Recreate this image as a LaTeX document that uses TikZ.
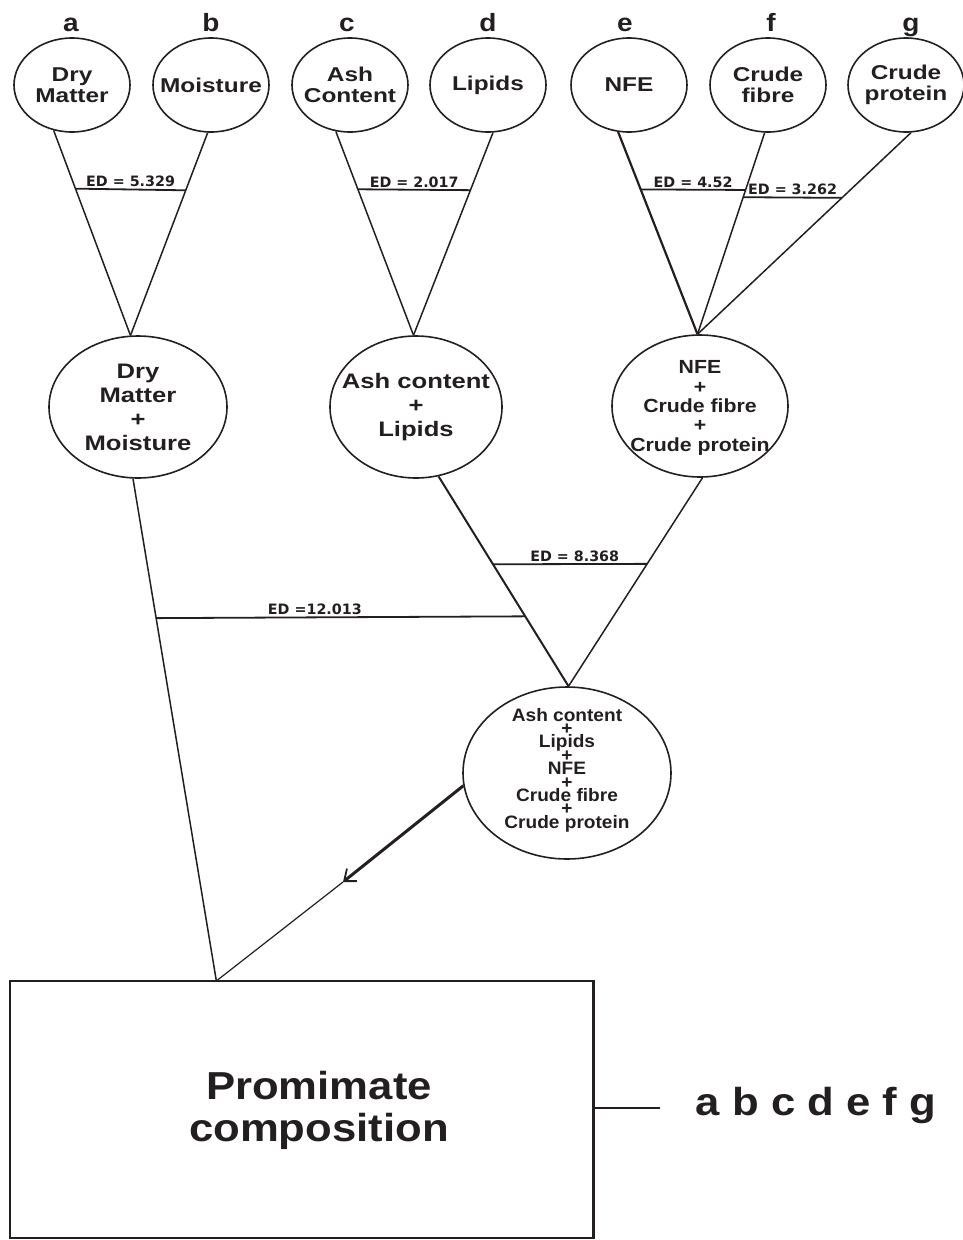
\documentclass[tikz,border=0pt]{standalone}
\usepackage{fontspec}
\setmainfont{Liberation Sans}
\newfontfamily\wideF[FakeStretch=1.22]{Liberation Sans}
\newfontfamily\wideG[FakeStretch=1.12]{Liberation Sans}
\newfontfamily\wideH[FakeStretch=1.06]{Liberation Sans}
\newfontfamily\edF{DejaVu Sans}
\usetikzlibrary{shapes.geometric,arrows.meta,calc}
\definecolor{ink}{RGB}{35,31,32}
\newcommand\tightlines{\lineskiplimit=-100pt\relax\lineskip=0pt\relax}
\begin{document}
\begin{tikzpicture}[x=1pt, y=-1pt, ink,
  ell/.style={draw, ellipse, inner sep=0pt, line width=1.6pt},
  topell/.style={ell, minimum width=116pt, minimum height=94pt},
  toptxt/.style={align=center, inner sep=0pt, font=\wideF\bfseries\fontsize{20}{21}\selectfont},
  midtxt/.style={align=center, inner sep=0pt, font=\wideF\bfseries\fontsize{21}{24}\selectfont},
  nfetxt/.style={align=center, inner sep=0pt, font=\wideG\bfseries\fontsize{19}{19.3}\selectfont},
  bottxt/.style={align=center, inner sep=0pt, font={\wideH\bfseries\fontsize{18}{13.4}\selectfont\tightlines}},
  boxtxt/.style={align=center, inner sep=0pt, font=\wideG\bfseries\fontsize{39}{42}\selectfont},
  letter/.style={anchor=base, inner sep=0pt, font=\wideG\bfseries\fontsize{25}{25}\selectfont},
  link/.style={line width=1.5pt},
  edline/.style={line width=1.8pt},
  edlab/.style={above, inner sep=1.5pt, font=\edF\bfseries\fontsize{14.3}{15}\selectfont}
]
\useasboundingbox (0,0) rectangle (962,1240);

% top ellipses
\node[topell] (a) at (72,85) {};
\node[toptxt] (ta) at (a) {Dry\\Matter};
\node[topell] (b) at (211,85) {};
\node[toptxt] (tb) at (b) {Moisture};
\node[topell] (c) at (350,85) {};
\node[toptxt] (tc) at (c) {Ash\\Content};
\node[topell] (d) at (488,85) {};
\node[toptxt] (td) at (d) {Lipids};
\node[topell] (e) at (629,85) {};
\node[toptxt] (te) at (e) {NFE};
\node[topell] (f) at (768,85) {};
\node[toptxt] (tf) at (f) {Crude\\fibre};
\node[topell] (g) at (906,85) {};
\node[toptxt] (tg) at (g) {Crude\\protein};

% letters
\node[letter] (la) at (71,31) {a};
\node[letter] (lb) at (211,31) {b};
\node[letter] (lc) at (347,31) {c};
\node[letter] (ld) at (488,31) {d};
\node[letter] (le) at (625,31) {e};
\node[letter] (lf) at (771,31) {f};
\node[letter] (lg) at (911,31) {g};

% middle ellipses
\node[ell, minimum width=178pt, minimum height=142pt] (dm) at (138,407) {};
\node[midtxt] (tdm) at (dm) {Dry\\Matter\\+\\Moisture};
\node[ell, minimum width=172pt, minimum height=142pt] (al) at (416,407) {};
\node[midtxt] (tal) at (al) {Ash content\\+\\Lipids};
\node[ell, minimum width=176pt, minimum height=142pt] (nf) at (700,406) {};
\node[nfetxt] (tnf) at (700,408) {NFE\\+\\Crude fibre\\+\\Crude protein};

% bottom ellipse
\node[ell, minimum width=208pt, minimum height=172pt] (bt) at (567,773) {};
\node[bottxt] (tbt) at (567,770) {Ash content\\+\\Lipids\\+\\NFE\\+\\Crude fibre\\+\\Crude protein};

% box
\node[draw, line width=1.5pt, minimum width=583pt, minimum height=257pt, inner sep=0pt] (box) at (301.5,1109.5) {};
\node[boxtxt] (tbox) at (319,1110) {Promimate\\composition};
\draw[line width=3pt] (box.north east) -- (box.south east);
\node[anchor=base, inner sep=0pt, font=\wideG\bfseries\fontsize{39}{39}\selectfont] (abc) at (816,1115) {a b c d e f g};
\coordinate (lend) at (660,1108);
\draw[link] (box.east |- lend) -- (lend);

\coordinate (bj) at ([xshift=207pt]box.north west);
\coordinate (bj2) at ([xshift=208pt]box.north west);
\coordinate (arr) at (343,882);

% top connectors
\draw[link] (a.-112) -- (dm.96);
\draw[link] (b.-94) -- (dm.96);
\draw[edline] ($(a.-112)!0.284!(dm.96)$) -- ($(b.-94)!0.284!(dm.96)$) node[edlab, midway] {ED = 5.329};
\draw[link] (c.-107) -- (al.92);
\draw[link] (d.-84) -- (al.92);
\draw[edline] ($(c.-107)!0.284!(al.92)$) -- ($(d.-84)!0.284!(al.92)$) node[edlab, midway] {ED = 2.017};
\draw[link, line width=2.2pt] (e.-103) -- (nf.92);
\draw[link] (f.-94) -- (nf.92);
\draw[link] (g.-84) -- (nf.92);
\draw[edline] ($(e.-103)!0.284!(nf.92)$) -- ($(f.-94)!0.284!(nf.92)$) node[edlab, midway] {ED = 4.52};
\draw[edline] ($(f.-94)!0.32!(nf.92)$) -- ($(g.-84)!0.3235!(nf.92)$) node[edlab, midway] {ED = 3.262};

% lower connectors
\draw[link, line width=2pt] (al.-72) -- (bt.89);
\draw[link] (nf.-88) -- (bt.89);
\draw[edline] ($(al.-72)!0.419!(bt.89)$) -- ($(nf.-88)!0.413!(bt.89)$) node[edlab, pos=0.53] {ED = 8.368};
\draw[link] (dm.-94) -- (bj);
\draw[edline] ($(dm.-94)!0.278!(bj)$) -- ($(al.-72)!0.667!(bt.89)$) node[edlab, pos=0.43] {ED =12.013};

% arrow to box
\draw[line width=3pt, -{Straight Barb[length=10pt, width=16pt, line width=1.8pt]}] (bt.-173) -- (arr);
\draw[line width=1.2pt] (arr) -- (bj2);
\end{tikzpicture}
\end{document}
